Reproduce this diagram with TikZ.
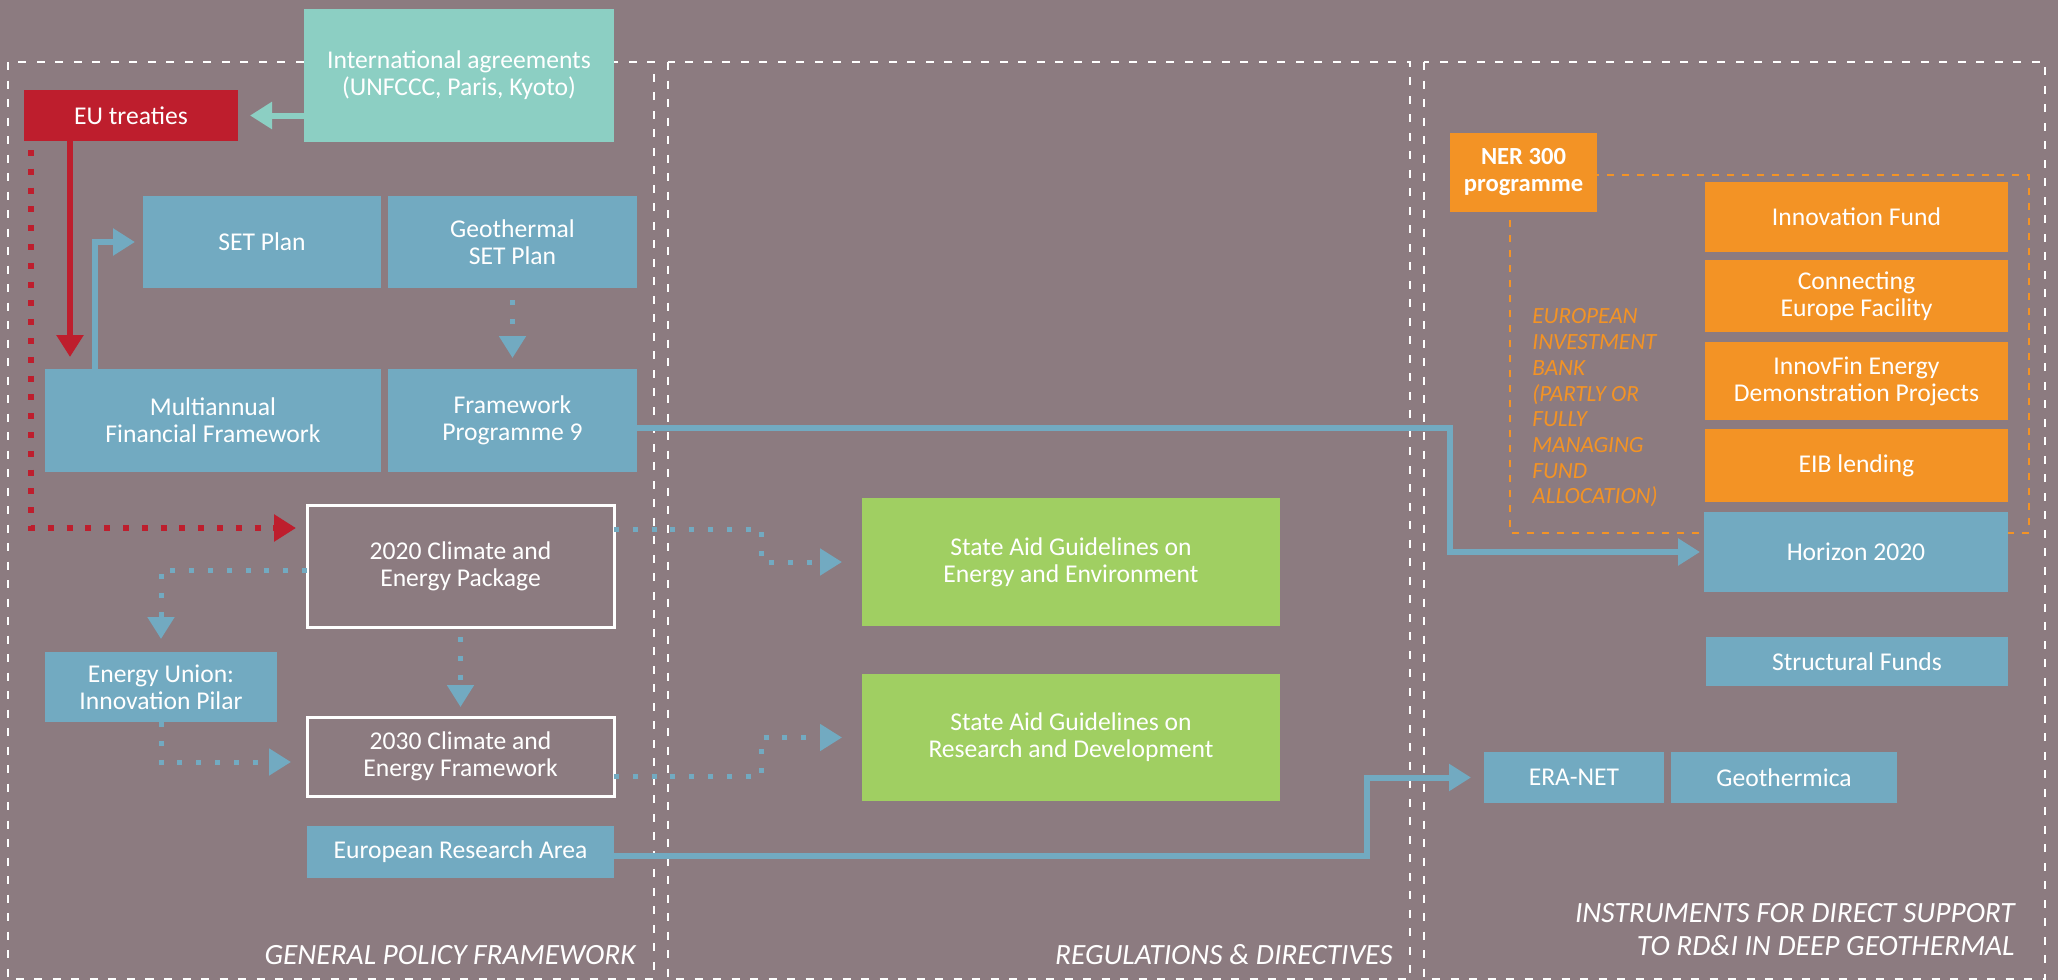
\documentclass[tikz,border=0pt]{standalone}
\usepackage{fontspec}
\setmainfont{Carlito}
\usetikzlibrary{arrows.meta}
\definecolor{cBg}{HTML}{8C7B80}
\definecolor{cTeal}{HTML}{8CCFC3}
\definecolor{cRed}{HTML}{BE1E2D}
\definecolor{cBlue}{HTML}{72AAC1}
\definecolor{cGreen}{HTML}{A0CF62}
\definecolor{cOrange}{HTML}{F39325}
\newcommand\mkbox[7]{%
  \node[#6, minimum width={(#4-#2)*0.5pt}, minimum height={(#5-#3)*0.5pt}] (#1) at ({(#2+#4)/2},{(#3+#5)/2}) {#7};}
\begin{document}
\begin{tikzpicture}[x=0.5pt,y=-0.5pt,
  box/.style={inner sep=0pt, outer sep=0pt, align=center, text=white, font=\fontsize{12.8}{13.5}\selectfont},
  bbox/.style={box, fill=cBlue},
  obox/.style={box, fill=cOrange},
  gbox/.style={box, fill=cGreen},
  wbox/.style={box, draw=white, line width=1.5pt},
  tip/.style={-{Triangle[length=11pt,width=13pt]}},
  arr/.style={tip, line width=3pt},
  bdot/.style={tip, cBlue, line width=2.5pt, dash pattern=on 2.5pt off 6.9pt},
  rdot/.style={tip, cRed, line width=3pt, dash pattern=on 3pt off 6.4pt},
  frame/.style={white, line width=1pt, dash pattern=on 4pt off 5.25pt},
  lbl/.style={text=white, font=\fontsize{14.7}{16.5}\selectfont\itshape, inner sep=0pt},
]
\fill[cBg] (0,0) rectangle (2058,980);
\useasboundingbox (0,0) rectangle (2058,980);
% panel frames
\draw[frame] (8,62) rectangle (654,979);
\draw[frame] (668,62) rectangle (1410,979);
\draw[frame] (1424,62) rectangle (2045,979);
% orange dashed frame
\draw[cOrange, line width=1.25pt, dash pattern=on 3.5pt off 4pt] (1510,175) rectangle (2029,533);

% boxes
\mkbox{intl}{304}{9}{614}{142}{box, fill=cTeal}{International agreements\\(UNFCCC, Paris, Kyoto)}
\mkbox{eut}{24}{90}{238}{141}{box, fill=cRed}{EU treaties}
\mkbox{set}{143}{196}{381}{288}{bbox}{SET Plan}
\mkbox{gset}{388}{196}{637}{288}{bbox}{Geothermal\\SET Plan}
\mkbox{mff}{45}{369}{381}{472}{bbox}{Multiannual\\Financial Framework}
\mkbox{fp9}{388}{369}{637}{472}{bbox}{Framework\\Programme 9}
\mkbox{c2020}{307}{505}{614}{627}{wbox}{2020 Climate and\\Energy Package}
\mkbox{eunion}{45}{652}{277}{722}{bbox}{Energy Union:\\Innovation Pilar}
\mkbox{c2030}{307}{717}{614}{796}{wbox}{2030 Climate and\\Energy Framework}
\mkbox{era}{307}{826}{614}{878}{bbox}{European Research Area}
\mkbox{sa1}{862}{498}{1280}{626}{gbox}{State Aid Guidelines on\\Energy and Environment}
\mkbox{sa2}{862}{674}{1280}{801}{gbox}{State Aid Guidelines on\\Research and Development}
\mkbox{ner}{1450}{133}{1597}{212}{obox, font=\fontsize{12.3}{13.5}\selectfont\bfseries}{NER 300\\programme}
\mkbox{ifund}{1705}{182}{2008}{252}{obox}{Innovation Fund}
\mkbox{cef}{1705}{260}{2008}{332}{obox}{Connecting\\Europe Facility}
\mkbox{innov}{1705}{342}{2008}{420}{obox}{InnovFin Energy\\Demonstration Projects}
\mkbox{eib}{1705}{429}{2008}{502}{obox}{EIB lending}
\mkbox{h2020}{1704}{512}{2008}{592}{bbox}{Horizon 2020}
\mkbox{sf}{1706}{637}{2008}{686}{bbox}{Structural Funds}
\mkbox{eranet}{1484}{752}{1664}{803}{bbox}{ERA-NET}
\mkbox{geoth}{1671}{752}{1897}{803}{bbox}{Geothermica}

% EIB text
\node[anchor=west, align=left, inner sep=0pt, text=cOrange, font=\fontsize{11.6}{12.85}\selectfont\itshape] (eibtxt) at (1532,408)
  {EUROPEAN\\INVESTMENT\\BANK\\(PARTLY OR\\FULLY\\MANAGING\\FUND\\ALLOCATION)};

% panel labels
\node[lbl, anchor=east] (l1) at (636,955) {GENERAL POLICY FRAMEWORK};
\node[lbl, anchor=east] (l2) at (1393,955) {REGULATIONS \& DIRECTIVES};
\node[lbl, anchor=east, align=right] (l3) at (2015,930) {INSTRUMENTS FOR DIRECT SUPPORT\\TO RD\&I IN DEEP GEOTHERMAL};

% helper coordinates
\coordinate (xr) at (70,0);
\coordinate (xrd) at (31,0);
\coordinate (xb) at (95,0);
\coordinate (xf) at (1450,0);
\coordinate (xs) at (761,0);
\coordinate (xe) at (1367,0);

% connectors
\draw[arr, cTeal, shorten >=6pt] (intl.west |- eut.east) -- (eut.east);
\draw[arr, cRed, shorten >=6pt] (eut.south -| xr) -- (mff.north -| xr);
\draw[arr, cBlue, shorten >=4pt] (mff.north -| xb) |- (set.west);
\draw[bdot, shorten <=6pt, shorten >=5.5pt] (gset.south) -- (fp9.north);
\draw[arr, cBlue, shorten >=2pt] ([yshift=-3.5pt]fp9.east) coordinate (f1) -- (f1 -| xf) -- (xf |- h2020.west) -- (h2020.west);
\draw[rdot, shorten <=4.5pt, shorten >=5.5pt] (eut.south -| xrd) |- ([yshift=19pt]c2020.west);
\draw[bdot, shorten >=6.5pt] ([yshift=-2pt]c2020.west) -| (eunion.north);
\draw[bdot, shorten >=8pt] (eunion.south) |- ([yshift=-2.75pt]c2030.west);
\draw[bdot, shorten <=5pt, shorten >=5pt] (c2020.south) -- (c2030.north);
\draw[bdot, shorten >=10pt] ([yshift=18.5pt]c2020.east) coordinate (a1) -- (a1 -| xs) -- (xs |- sa1.west) -- (sa1.west);
\draw[bdot, shorten >=10pt] ([yshift=-9.75pt]c2030.east) coordinate (a2) -- (a2 -| xs) -- (xs |- sa2.west) -- (sa2.west);
\draw[arr, cBlue, shorten >=6.5pt] ([yshift=-2pt]era.east) coordinate (e1) -- (e1 -| xe) -- (xe |- eranet.west) -- (eranet.west);
\end{tikzpicture}
\end{document}
